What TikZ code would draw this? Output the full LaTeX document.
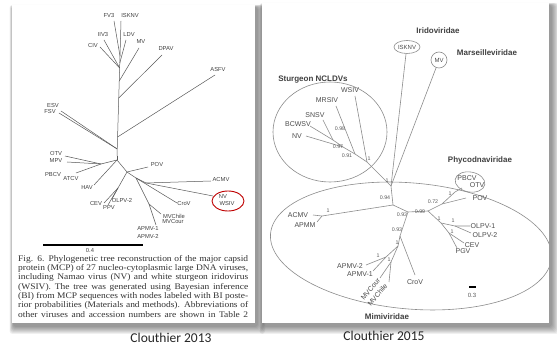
\documentclass[tikz,border=0pt]{standalone}
\usepackage{fontspec}
\setmainfont{Liberation Serif}
\setsansfont{Liberation Sans}
\newfontfamily\calibri{Carlito}
\newfontfamily\capfont[FakeStretch=1.1]{Liberation Serif}
\usetikzlibrary{calc}
\tikzset{
  lbl/.style={font=\sffamily\fontsize{5.8}{6}\selectfont, text=black!75, inner sep=0pt},
  rl/.style={font=\sffamily\fontsize{7}{7}\selectfont, text=black!70, inner sep=0pt},
  num/.style={font=\sffamily\fontsize{5.3}{5}\selectfont, text=black!65, inner sep=0pt},
  fam/.style={font=\sffamily\bfseries\fontsize{8}{8}\selectfont, text=black!75, inner sep=0pt},
  br/.style={draw=black!65, line width=0.5pt},
  rbr/.style={draw=black!45, line width=0.6pt},
  captxt/.style={font=\calibri\fontsize{13.5}{13.5}\selectfont, text=black!85, inner sep=0pt},
}
\begin{document}
\begin{tikzpicture}[x=1pt,y=-1pt]
\useasboundingbox (0,0) rectangle (557,347);
\fill[white] (0,0) rectangle (557,347);
% shadows
\foreach \k in {0,...,7}{
  \fill[black,opacity=0.06,rounded corners=3pt] (13-0.5*\k,7-0.3*\k) rectangle (258+\k,327+\k);
  \fill[black,opacity=0.06,rounded corners=3pt] (263-0.5*\k,5-0.3*\k) rectangle (552+\k,327+\k);
}
\fill[white] (12,5) rectangle (255,323);
\fill[white] (262,3) rectangle (549,323);

% ================= LEFT TREE =================
\coordinate (T) at (120,56); \coordinate (B) at (117,156);
\draw[br] (T) -- (B);
\node[lbl] (FV3) at (109,16) {FV3};
\node[lbl] (ISKNV) at (130,16) {ISKNV};
\coordinate (eFV3) at (114,21); \coordinate (eISK) at (121,21);
\draw[br] (eFV3) -- (T); \draw[br] (eISK) -- (T);
\node[lbl] (LDV) at (129,35) {LDV};
\coordinate (nLDV) at ($(T)!0.07!(B)$); \coordinate (eLDV) at (126,40);
\draw[br] (eLDV) -- (nLDV);
\node[lbl] (IIV3) at (103,35) {IIV3};
\node[lbl] (CIV) at (93,46) {CIV};
\coordinate (nIIV) at ($(T)!0.12!(B)$);
\coordinate (eIIV) at (104,40); \coordinate (eCIV) at (100,47);
\draw[br] (eIIV) -- (nIIV); \draw[br] (eCIV) -- (nIIV);
\node[lbl] (MV) at (141,42) {MV};
\coordinate (nMV) at ($(T)!0.25!(B)$); \coordinate (eMV) at (139,48);
\draw[br] (eMV) -- (nMV);
\node[lbl] (DPAV) at (166,49) {DPAV};
\coordinate (nDP) at ($(T)!0.42!(B)$); \coordinate (eDP) at (162,55);
\draw[br] (eDP) -- (nDP);
\node[lbl] (ASFV) at (218,70) {ASFV};
\coordinate (nAS) at ($(T)!0.81!(B)$); \coordinate (eAS) at (215,75);
\draw[br] (eAS) -- (nAS);
\node[lbl] (ESV) at (53,106) {ESV};
\node[lbl] (FSV) at (50,112) {FSV};
\coordinate (nES) at ($(T)!0.93!(B)$);
\coordinate (eESV) at (61,111); \coordinate (eFSV) at (59,113);
\draw[br] (eESV) -- (nES); \draw[br] (eFSV) -- (nES);

\coordinate (Q) at (117,160); \draw[br] (B) -- (Q);
\coordinate (P) at (101,164); \draw[br] (Q) -- (P);
\node[lbl] (OTV) at (56,154) {OTV};
\node[lbl] (MPV) at (56,161) {MPV};
\node[lbl] (PBCV) at (53,175) {PBCV};
\node[lbl] (ATCV) at (71,179) {ATCV};
\coordinate (eOTV) at (65,156); \coordinate (eMPV) at (67,162); \coordinate (ePB) at (76,173);
\draw[br] (eOTV) -- (P); \draw[br] (eMPV) -- (P); \draw[br] (ePB) -- (P);
\node[lbl] (HAV) at (87,188) {HAV};
\coordinate (eHAV) at (94,185); \draw[br] (eHAV) -- (Q);
\coordinate (C) at (127,172); \draw[br] (Q) -- (C);
\node[lbl] (POV) at (157,165) {POV};
\coordinate (ePOV) at (148,167); \draw[br] (ePOV) -- (C);
\coordinate (D) at (118,188); \draw[br] (C) -- (D);
\node[lbl] (CEV) at (96,204) {CEV};
\node[lbl] (PPV) at (109,208) {PPV};
\node[lbl] (OLPV2) at (122,201) {OLPV-2};
\coordinate (eOL) at (112,199); \coordinate (eCEV) at (104,203); \coordinate (ePPV) at (108,205);
\draw[br] (eOL) -- (D); \draw[br] (eCEV) -- (D); \draw[br] (ePPV) -- (D);
\coordinate (G) at (136,178); \draw[br] (C) -- (G);
\coordinate (E) at (146,183); \draw[br] (G) -- (E);
\node[lbl] (ACMV) at (221,180) {ACMV};
\node[lbl] (NV) at (223,197) {NV};
\node[lbl] (WSIV) at (227,204) {WSIV};
\coordinate (eAC) at (211,181); \coordinate (eNV) at (213,196);
\draw[br] (eAC) -- (E); \draw[br] (eNV) -- (E);
\draw[red!75!black, line width=0.9pt] (228,201) ellipse [x radius=16pt, y radius=10pt];
\node[lbl] (CroV) at (184,204) {CroV};
\coordinate (eCro) at (177,203); \draw[br] (eCro) -- (G);
\coordinate (H) at (149,204); \draw[br] (G) -- (H);
\node[lbl] (MVChile) at (174,216) {MVChile};
\node[lbl] (MVCour) at (173,222) {MVCour};
\node[lbl] (APMV1) at (148,229) {APMV-1};
\node[lbl] (APMV2) at (148,236) {APMV-2};
\coordinate (eMVC) at (161,214); \coordinate (eAPM) at (156,225);
\draw[br] (eMVC) -- (H); \draw[br] (eAPM) -- (H);
% scale bar
\coordinate (sb1) at (43,245); \coordinate (sb2) at (143,245);
\draw[black, line width=1.6pt] (sb1) -- (sb2);
\node[lbl] (s04) at (90,251) {0.4};
% caption
\node[anchor=north west, inner sep=0pt, text width=230pt, align=justify,
      font=\capfont\fontsize{8.6}{9.3}\selectfont, text=black!80] (capL) at (18,255)
{{\parfillskip=0pt Fig. 6. Phylogenetic tree reconstruction of the major capsid\linebreak
protein (MCP) of 27 nucleo-cytoplasmic large DNA viruses,\linebreak
including Namao virus (NV) and white sturgeon iridovirus\linebreak
(WSIV). The tree was generated using Bayesian inference\linebreak
(BI) from MCP sequences with nodes labeled with BI poste-\linebreak
rior probabilities (Materials and methods). Abbreviations of\linebreak
other viruses and accession numbers are shown in Table 2\par}};

% ================= RIGHT TREE =================
\node[fam] (irid) at (438,31) {Iridoviridae};
\node[fam] (mars) at (487,53) {Marseilleviridae};
\node[fam] (sturg) at (313,80) {Sturgeon NCLDVs};
\node[fam] (phyc) at (480,160) {Phycodnaviridae};
\node[fam] (mimi) at (387,317) {Mimiviridae};

\draw[rbr] (407,47) ellipse [x radius=13pt, y radius=6.5pt];
\node[rl, font=\sffamily\fontsize{6}{6}\selectfont] (rISK) at (407,47) {ISKNV};
\draw[rbr] (439,60) circle [radius=8pt];
\node[rl, font=\sffamily\fontsize{6}{6}\selectfont] (rMV) at (439,60) {MV};
\draw[rbr] (330,132) ellipse [x radius=57pt, y radius=50pt];
\begin{scope}
\clip (262,3) rectangle (549,323);
\draw[rbr] (411,246) ellipse [x radius=141pt, y radius=63pt, rotate=-5];
\end{scope}
\draw[rbr] (470,182) ellipse [x radius=15pt, y radius=10pt, rotate=-10];

\node[rl] (rWSIV) at (350,90) {WSIV};
\node[rl] (rMRS) at (327,100) {MRSIV};
\node[rl] (rSN) at (315,115) {SNSV};
\node[rl] (rBC) at (298,124) {BCWSV};
\node[rl] (rNV) at (297,136) {NV};
\coordinate (N1s) at (367,162); \coordinate (N91) at (355,154);
\coordinate (N97) at (343,147); \coordinate (N98) at (333,140);
\coordinate (J) at (391,186);
\coordinate (eW) at (355,96); \coordinate (eMR) at (336,106);
\coordinate (eSN) at (323,120); \coordinate (eBC) at (310,126); \coordinate (eNVr) at (306,136);
\draw[rbr] (eW) -- (N1s); \draw[rbr] (eMR) -- (N91);
\draw[rbr] (eBC) -- (N98) -- (N97) -- (N91) -- (N1s) -- (J);
\draw[rbr] (eSN) -- (N98); \draw[rbr] (eNVr) -- (N97);
\coordinate (eIS) at (406,54); \coordinate (eMVr) at (436,68);
\draw[rbr] (eIS) -- (J); \draw[rbr] (eMVr) -- (J);
\node[num] (n098) at (340,129) {0.98};
\node[num] (n097) at (338,147) {0.97};
\node[num] (n091) at (347,156) {0.91};
\node[num] (n1a) at (369,159) {1};
\node[num] (n1b) at (387,181) {1};

\coordinate (N94) at (393,205); \draw[rbr] (J) -- (N94);
\node[num] (n094) at (385,198) {0.94};
\node[rl] (rACMV) at (298,215) {ACMV};
\node[rl] (rAPMM) at (305,225) {APMM};
\coordinate (NA) at (322,216); \coordinate (eACr) at (313,215); \coordinate (eAPr) at (317,222);
\draw[rbr] (eACr) -- (NA) -- (N94); \draw[rbr] (eAPr) -- (NA);
\node[num] (n1c) at (328,211) {1};
\coordinate (N93) at (408,212); \coordinate (N99) at (428,211);
\draw[rbr] (N94) -- (N93) -- (N99);
\node[num] (n093) at (402,215) {0.93};
\node[num] (n099) at (420,212) {0.99};
\coordinate (N72) at (442,204); \coordinate (N1p) at (455,192);
\coordinate (ePOVr) at (466,198); \coordinate (ePBr) at (462,188);
\draw[rbr] (N99) -- (N72) -- (ePOVr); \draw[rbr] (N72) -- (N1p) -- (ePBr);
\node[num] (n072) at (433,202) {0.72};
\node[num] (n1d) at (450,194) {1};
\node[rl] (rPBCV) at (467,178) {PBCV};
\node[rl] (rOTV) at (477,185) {OTV};
\node[rl] (rPOV) at (480,198) {POV};
\coordinate (N1x) at (441,223); \coordinate (N1y) at (455,226); \coordinate (N1z) at (449,233);
\coordinate (eO1) at (470,226); \coordinate (eO2) at (471,233);
\coordinate (eCE) at (464,243); \coordinate (ePG) at (457,248);
\draw[rbr] (N99) -- (N1x) -- (N1y) -- (eO1); \draw[rbr] (N1y) -- (eO2);
\draw[rbr] (N1x) -- (N1z) -- (eCE); \draw[rbr] (N1z) -- (ePG);
\node[num] (n1e) at (439,219) {1};
\node[num] (n1f) at (453,221) {1};
\node[num] (n1g) at (452,232) {1};
\node[rl] (rOL1) at (483,226) {OLPV-1};
\node[rl] (rOL2) at (485,235) {OLPV-2};
\node[rl] (rCEV) at (472,245) {CEV};
\node[rl] (rPGV) at (463,251) {PGV};

\coordinate (N93b) at (400,236); \coordinate (eCror) at (415,275);
\draw[rbr] (N93) -- (N93b) -- (eCror);
\node[num] (n093b) at (397,230) {0.93};
\node[rl] (rCroV) at (415,282) {CroV};
\coordinate (N1d) at (398,246); \coordinate (N1e) at (386,257); \coordinate (N1f) at (391,262);
\coordinate (eA2) at (366,265); \coordinate (eA1) at (373,271);
\coordinate (eMc) at (380,278); \coordinate (eMh) at (389,282);
\draw[rbr] (N93b) -- (N1d) -- (N1e) -- (eA2); \draw[rbr] (N1e) -- (eA1);
\draw[rbr] (N1d) -- (N1f) -- (eMc); \draw[rbr] (N1f) -- (eMh);
\node[num] (n1h) at (397,243) {1};
\node[num] (n1i) at (378,256) {1};
\node[num] (n1j) at (389,260) {1};
\node[rl] (rAP2) at (350,266) {APMV-2};
\node[rl] (rAP1) at (360,274) {APMV-1};
\node[rl, rotate=50, anchor=south east] (rMVc) at (381,281) {MVCour};
\node[rl, rotate=50, anchor=north east] (rMVh) at (384,283) {MVChile};
\coordinate (rs1) at (469,287); \coordinate (rs2) at (476,287);
\draw[black, line width=1.2pt] (rs1) -- (rs2);
\node[num, font=\sffamily\fontsize{6}{6}\selectfont] (r03) at (472,295) {0.3};

% captions
\node[captxt] (c13) at (171,338) {Clouthier 2013};
\node[captxt] (c15) at (384,336) {Clouthier 2015};
\end{tikzpicture}
\end{document}
